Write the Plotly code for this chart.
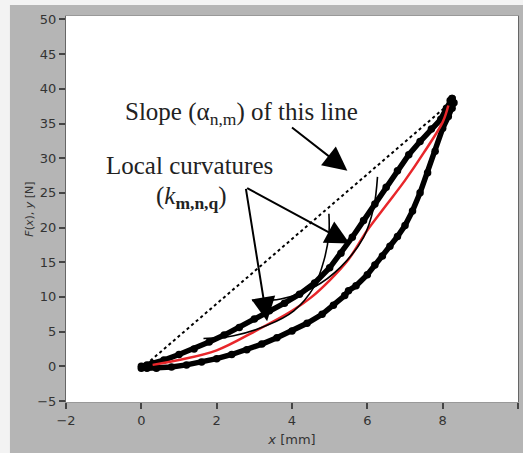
import plotly.graph_objects as go

# ---- data ----
load_x = [0.0, 0.15, 0.3, 0.6, 1.0, 1.4, 1.8, 2.2, 2.6, 3.0, 3.4, 3.8, 4.2, 4.6, 5.0, 5.3, 5.6,
          5.9, 6.2, 6.5, 6.8, 7.1, 7.4, 7.7, 7.95, 8.1, 8.2, 8.25]
load_f = [0.0, 0.2, 0.4, 0.9, 1.7, 2.5, 3.5, 4.5, 5.6, 6.8, 8.0, 9.1, 10.4, 12.0, 14.2, 16.3, 18.6,
          21.0, 23.4, 25.8, 28.2, 30.5, 32.4, 34.2, 35.6, 37.2, 38.3, 38.6]
unload_x = [8.25, 8.3, 8.25, 8.15, 8.0, 7.8, 7.6, 7.4, 7.2, 7.0, 6.8, 6.6, 6.4, 6.2, 6.0, 5.7, 5.5,
            5.4, 5.1, 4.8, 4.4, 4.0, 3.6, 3.2, 2.8, 2.4, 2.0, 1.6, 1.2, 0.8, 0.4, 0.15, 0.0]
unload_f = [38.6, 38.0, 37.2, 36.0, 34.3, 31.0, 27.9, 25.0, 22.4, 20.3, 18.7, 17.3, 15.9, 14.6, 13.2, 11.6, 10.9,
            10.2, 8.8, 7.5, 6.2, 5.1, 4.1, 3.2, 2.4, 1.7, 1.1, 0.6, 0.2, -0.1, -0.3, -0.3, -0.3]
mean_x = [0.3, 1.0, 2.0, 3.0, 4.0, 4.5, 5.0, 5.5, 6.0, 6.5, 7.0, 7.5, 8.0, 8.15]
mean_f = [0.2, 0.9, 2.3, 5.0, 8.0, 9.9, 12.4, 15.4, 19.6, 23.2, 26.8, 30.8, 35.2, 37.6]
slope_x = [0.24, 8.08]
slope_f = [0.8, 37.4]
arc1_x = [1.65, 2.45, 3.34, 4.05, 4.58, 4.85, 4.98, 4.98]
arc1_f = [4.0, 4.4, 5.9, 8.0, 11.4, 15.3, 19.1, 22.0]
arc2_x = [2.94, 3.7, 4.58, 5.29, 5.9, 6.17, 6.27]
arc2_f = [9.5, 9.7, 11.4, 14.3, 18.6, 22.9, 27.3]
# arrows: (tail x, tail y) -> (tip x, tip y)
arrow_tail_x = [3.96, 2.77, 2.77]
arrow_tail_f = [34.6, 25.8, 25.8]
arrow_tip_x = [5.47, 3.34, 5.53]
arrow_tip_f = [28.2, 6.5, 17.7]

x_ticks = [-2, 0, 2, 4, 6, 8, 10]
y_ticks = [-5, 0, 5, 10, 15, 20, 25, 30, 35, 40, 45, 50]

fig = go.Figure()
fig.add_trace(go.Scatter(x=load_x + unload_x, y=load_f + unload_f, mode="lines+markers",
                         line=dict(color="black", width=5.5),
                         marker=dict(color="black", size=7.5), hoverinfo="skip"))
fig.add_trace(go.Scatter(x=mean_x, y=mean_f, mode="lines",
                         line=dict(color="#e8262a", width=2.5, shape="spline"), hoverinfo="skip"))
fig.add_trace(go.Scatter(x=slope_x, y=slope_f, mode="lines",
                         line=dict(color="black", width=2, dash="dot"), hoverinfo="skip"))
fig.add_trace(go.Scatter(x=arc1_x, y=arc1_f, mode="lines",
                         line=dict(color="black", width=1.6, shape="spline"), hoverinfo="skip"))
fig.add_trace(go.Scatter(x=arc2_x, y=arc2_f, mode="lines",
                         line=dict(color="black", width=1.6, shape="spline"), hoverinfo="skip"))

for sx, sy, tx, ty in zip(arrow_tail_x, arrow_tail_f, arrow_tip_x, arrow_tip_f):
    fig.add_annotation(x=tx, y=ty, ax=sx, ay=sy, xref="x", yref="y", axref="x", ayref="y",
                       text="", showarrow=True, arrowhead=2, arrowsize=2.4, arrowwidth=2,
                       arrowcolor="black", standoff=0, startstandoff=0)

serif = dict(family="Liberation Serif", size=25, color="#222222")
fig.add_annotation(x=2.66, y=36.5, xref="x", yref="y", showarrow=False,
                   text="Slope (α<sub>n,m</sub>) of this line", font=serif)
fig.add_annotation(x=1.28, y=29.0, xref="x", yref="y", showarrow=False,
                   text="Local curvatures", font=serif)
fig.add_annotation(x=1.33, y=24.4, xref="x", yref="y", showarrow=False,
                   text="(<i>k</i><sub><b>m,n,q</b></sub>)", font=serif)

# light strips at the left and top edge of the gray panel
fig.add_shape(type="rect", xref="paper", yref="paper", x0=-0.2, x1=-0.124, y0=-0.2, y1=1.1,
              fillcolor="#f3f3f3", line_width=0, layer="below")
fig.add_shape(type="rect", xref="paper", yref="paper", x0=-0.2, x1=1.1, y0=1.0285, y1=1.1,
              fillcolor="#f3f3f3", line_width=0, layer="below")

tickfont = dict(family="DejaVu Sans", size=13, color="#333333")
fig.update_layout(
    width=523, height=453,
    margin=dict(l=66, r=5, t=16, b=51),
    paper_bgcolor="#b5b5b5", plot_bgcolor="white",
    showlegend=False,
    xaxis=dict(range=[-2, 10], tickvals=x_ticks, ticks="outside", ticklen=6, tickwidth=2,
               tickcolor="#444", showgrid=False, zeroline=False, showline=True,
               linecolor="#999", linewidth=1, mirror=True, tickfont=tickfont,
               title=dict(text="<i>x</i> [mm]", standoff=8,
                          font=dict(family="DejaVu Sans", size=13, color="#333"))),
    yaxis=dict(range=[-5.15, 50.5], tickvals=y_ticks, ticks="outside", ticklen=6, tickwidth=1.5,
               tickcolor="#444", showgrid=False, zeroline=False, showline=True,
               linecolor="#666", linewidth=1, mirror=True, tickfont=tickfont,
               title=dict(text="<i>F</i>(<i>x</i>), <i>y</i> [N]", standoff=1,
                          font=dict(family="DejaVu Sans", size=11, color="#333"))),
)

fig.write_html("out.html")
